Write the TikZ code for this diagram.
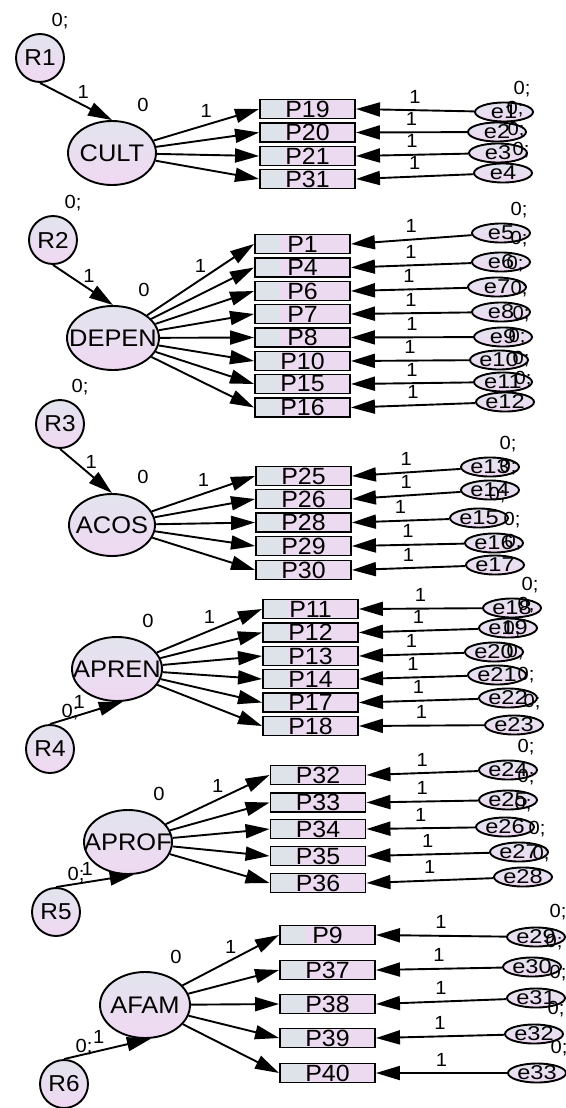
\documentclass[tikz,border=0pt]{standalone}
\usepackage{fontspec}
\setmainfont[FakeStretch=1.06]{Liberation Sans}
\newfontfamily\errfont[FakeStretch=1.18]{Liberation Sans}
\usetikzlibrary{arrows.meta,shapes.geometric}
\definecolor{lav}{HTML}{ECDAF0}
\definecolor{blu}{HTML}{DEE3EA}
\definecolor{latA}{HTML}{E2E4EE}
\definecolor{latB}{HTML}{F0D8F2}
\tikzset{
 base/.style={draw=black, line width=1.9pt, inner sep=0pt},
 latent/.style={base, ellipse, top color=latA, bottom color=latB, minimum width=88pt, minimum height=64pt},
 lattext/.style={font=\fontsize{24}{24}\selectfont, inner sep=0pt},
 resid/.style={base, circle, top color=latA, bottom color=latB, minimum size=48pt, font=\fontsize{23}{23}\selectfont},
 err/.style={base, ellipse, top color=latA, bottom color=latB, minimum width=58pt, minimum height=19pt},
 errtext/.style={font=\errfont\fontsize{20}{20}\selectfont, inner sep=0pt},
 box/.style={base, rectangle, fill=lav, minimum width=95pt, minimum height=19pt, font=\fontsize{23.5}{23.5}\selectfont,
   path picture={\fill[blu] (path picture bounding box.south west) rectangle ([xshift=25pt]path picture bounding box.north west);}},
 num/.style={font=\fontsize{19}{19}\selectfont, inner sep=1pt},
 arr/.style={draw, line width=1.9pt, -{Triangle[length=24pt,width=14pt]}},
 one/.style={num, midway, above=5pt},
 rv/.style={label={[num,xshift=20pt,yshift=37pt]center:0;}},
 lv/.style={label={[num,xshift=31pt,yshift=48pt]center:0}},
}
\begin{document}
\begin{tikzpicture}[x=1pt,y=-1pt]
\useasboundingbox (0,0) rectangle (565,1108);
\fill[white] (0,0) rectangle (565,1108);

% ---------- Block 1: CULT ----------
\node[resid, rv] (R1) at (40,58) {R1};
\node[latent, lv, label={[lattext]center:CULT}] (CULT) at (112,153) {};
\foreach \n/\y in {P19/109,P20/132.5,P21/156,P31/179}
  \node[box] (\n) at (307.5,\y) {\n};
\foreach \n/\x/\y in {e1/504/112,e2/497/132,e3/498/153,e4/503/173}
  \node[err, label={[errtext]center:\n}, label={[num,xshift=18pt,yshift=23pt]center:0;}] (\n) at (\x,\y) {};
\draw[arr] (R1.south) -- node[num, pos=.6, above=5pt]{1} (CULT.north);
\draw[arr] (CULT) -- node[one]{1} (P19.west);
\foreach \p in {P20,P21,P31} \draw[arr] (CULT) -- (\p.west);
\foreach \e/\p in {e1/P19,e2/P20,e3/P21,e4/P31} \draw[arr] (\e) -- node[one]{1} (\p.east);

% ---------- Block 2: DEPEN ----------
\node[resid, rv] (R2) at (53,240) {R2};
\node[latent, lv, minimum width=92pt, label={[lattext]center:DEPEN}] (DEPEN) at (113,338) {};
\foreach \n/\y in {P1/244,P4/267.5,P6/291,P7/314,P8/337.5,P10/361,P15/384,P16/407.5}
  \node[box] (\n) at (302.5,\y) {\n};
\foreach \n/\x/\y in {e5/501/233,e6/501/262,e7/497/287,e8/501/312,e9/503/337,e10/499/360,e11/503/382,e12/505/402}
  \node[err, label={[errtext]center:\n}, label={[num,xshift=18pt,yshift=23pt]center:0;}] (\n) at (\x,\y) {};
\draw[arr] (R2.south) -- node[num, pos=.6, above=5pt]{1} (DEPEN.north);
\draw[arr] (DEPEN) -- node[one]{1} (P1.west);
\foreach \p in {P4,P6,P7,P8,P10,P15,P16} \draw[arr] (DEPEN) -- (\p.west);
\foreach \e/\p in {e5/P1,e6/P4,e7/P6,e8/P7,e9/P8,e10/P10,e11/P15,e12/P16} \draw[arr] (\e) -- node[one]{1} (\p.east);

% ---------- Block 3: ACOS ----------
\node[resid, rv] (R3) at (60,424) {R3};
\node[latent, lv, minimum width=86pt, minimum height=62pt, label={[lattext]center:ACOS}] (ACOS) at (112,525) {};
\foreach \n/\y in {P25/476,P26/499,P28/522.5,P29/546,P30/570}
  \node[box] (\n) at (303.5,\y) {\n};
\foreach \n/\x/\y in {e13/490/467,e14/490/490,e15/479/518,e16/494/543,e17/495/565}
  \node[err, label={[errtext]center:\n}, label={[num,xshift=18pt,yshift=23pt]center:0;}] (\n) at (\x,\y) {};
\draw[arr] (R3.south) -- node[num, pos=.6, above=5pt]{1} (ACOS.north);
\draw[arr] (ACOS) -- node[one]{1} (P25.west);
\foreach \p in {P26,P28,P29,P30} \draw[arr] (ACOS) -- (\p.west);
\foreach \e/\p in {e13/P25,e14/P26,e15/P28,e16/P29,e17/P30} \draw[arr] (\e) -- node[one]{1} (\p.east);

% ---------- Block 4: APREN ----------
\node[resid, rv] (R4) at (50,749) {R4};
\node[latent, lv, minimum width=90pt, label={[lattext]center:APREN}] (APREN) at (117,669) {};
\foreach \n/\y in {P11/609,P12/632.5,P13/656,P14/679,P17/702.5,P18/726}
  \node[box] (\n) at (310.5,\y) {\n};
\foreach \n/\x/\y in {e18/512/608,e19/508/628,e20/494/652,e21/497/675,e22/508/698,e23/514/725}
  \node[err, label={[errtext]center:\n}, label={[num,xshift=18pt,yshift=23pt]center:0;}] (\n) at (\x,\y) {};
\draw[arr] (R4.north) -- node[num, pos=.4, above=5pt]{1} (APREN.-80);
\draw[arr] (APREN) -- node[one]{1} (P11.west);
\foreach \p in {P12,P13,P14,P17,P18} \draw[arr] (APREN) -- (\p.west);
\foreach \e/\p in {e18/P11,e19/P12,e20/P13,e21/P14,e22/P17,e23/P18} \draw[arr] (\e) -- node[one]{1} (\p.east);

% ---------- Block 5: APROF ----------
\node[resid, rv] (R5) at (56,912) {R5};
\node[latent, lv, label={[lattext]center:APROF}] (APROF) at (128,842) {};
\foreach \n/\y in {P32/775,P33/802.5,P34/829,P35/856,P36/883}
  \node[box] (\n) at (318,\y) {\n};
\foreach \n/\x/\y in {e24/508/770,e25/508/800,e26/505/827,e27/519/852,e28/523/877}
  \node[err, label={[errtext]center:\n}, label={[num,xshift=18pt,yshift=23pt]center:0;}] (\n) at (\x,\y) {};
\draw[arr] (R5.north) -- node[num, pos=.4, above=5pt]{1} (APROF.-80);
\draw[arr] (APROF) -- node[one]{1} (P32.west);
\foreach \p in {P33,P34,P35,P36} \draw[arr] (APROF) -- (\p.west);
\foreach \e/\p in {e24/P32,e25/P33,e26/P34,e27/P35,e28/P36} \draw[arr] (\e) -- node[one]{1} (\p.east);

% ---------- Block 6: AFAM ----------
\node[resid, rv] (R6) at (64,1084) {R6};
\node[latent, lv, minimum width=90pt, minimum height=66pt, label={[lattext]center:AFAM}] (AFAM) at (145,1005) {};
\foreach \n/\y in {P9/935,P37/970,P38/1004,P39/1038,P40/1073}
  \node[box] (\n) at (327.5,\y) {\n};
\foreach \n/\x/\y in {e29/536/937,e30/532/967,e31/536/998,e32/534/1034,e33/537/1073}
  \node[err, label={[errtext]center:\n}, label={[num,xshift=22pt,yshift=25pt]center:0;}] (\n) at (\x,\y) {};
\draw[arr] (R6.north) -- node[num, pos=.4, above=5pt]{1} (AFAM.-80);
\draw[arr] (AFAM) -- node[one]{1} (P9.west);
\foreach \p in {P37,P38,P39,P40} \draw[arr] (AFAM) -- (\p.west);
\foreach \e/\p in {e29/P9,e30/P37,e31/P38,e32/P39,e33/P40} \draw[arr] (\e) -- node[one]{1} (\p.east);
\end{tikzpicture}
\end{document}
